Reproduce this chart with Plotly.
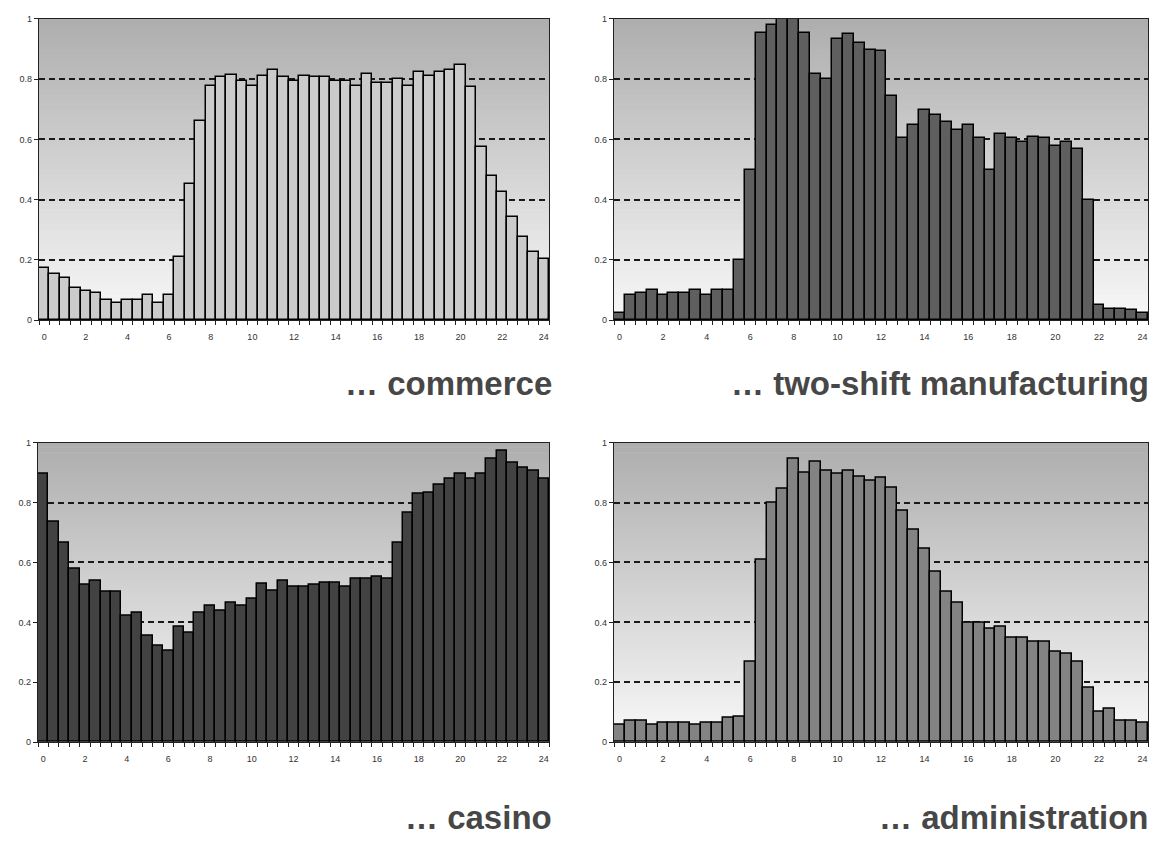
import plotly.graph_objects as go

hours = [0, 0.5, 1, 1.5, 2, 2.5, 3, 3.5, 4, 4.5, 5, 5.5, 6, 6.5, 7, 7.5, 8, 8.5, 9, 9.5,
         10, 10.5, 11, 11.5, 12, 12.5, 13, 13.5, 14, 14.5, 15, 15.5, 16, 16.5, 17, 17.5,
         18, 18.5, 19, 19.5, 20, 20.5, 21, 21.5, 22, 22.5, 23, 23.5, 24]

commerce = [0.172, 0.155, 0.140, 0.107, 0.096, 0.090, 0.068, 0.057, 0.068, 0.068, 0.085, 0.057,
            0.085, 0.210, 0.453, 0.662, 0.778, 0.806, 0.815, 0.793, 0.778, 0.812, 0.832, 0.806,
            0.795, 0.811, 0.806, 0.806, 0.795, 0.795, 0.778, 0.817, 0.787, 0.789, 0.800, 0.778,
            0.824, 0.811, 0.825, 0.832, 0.849, 0.773, 0.574, 0.480, 0.426, 0.342, 0.276, 0.227,
            0.205]

two_shift = [0.023, 0.085, 0.091, 0.102, 0.085, 0.091, 0.091, 0.102, 0.085, 0.102, 0.102, 0.200,
             0.498, 0.953, 0.980, 1.000, 1.000, 0.953, 0.817, 0.800, 0.933, 0.951, 0.920, 0.898,
             0.893, 0.746, 0.604, 0.647, 0.697, 0.680, 0.658, 0.631, 0.647, 0.604, 0.498, 0.618,
             0.604, 0.591, 0.609, 0.604, 0.580, 0.591, 0.570, 0.400, 0.052, 0.039, 0.039, 0.033,
             0.023]

casino = [0.895, 0.735, 0.667, 0.579, 0.526, 0.540, 0.502, 0.502, 0.423, 0.432, 0.355, 0.322,
          0.305, 0.385, 0.366, 0.432, 0.456, 0.438, 0.467, 0.456, 0.478, 0.528, 0.507, 0.540,
          0.518, 0.518, 0.526, 0.531, 0.531, 0.518, 0.545, 0.547, 0.551, 0.545, 0.667, 0.766,
          0.829, 0.832, 0.859, 0.879, 0.895, 0.879, 0.895, 0.945, 0.972, 0.934, 0.917, 0.906,
          0.879]

administration = [0.057, 0.072, 0.072, 0.057, 0.066, 0.063, 0.066, 0.057, 0.066, 0.063, 0.083, 0.085,
                  0.269, 0.609, 0.799, 0.845, 0.945, 0.901, 0.936, 0.906, 0.895, 0.906, 0.888, 0.873,
                  0.884, 0.851, 0.774, 0.710, 0.645, 0.568, 0.501, 0.467, 0.399, 0.399, 0.379, 0.385,
                  0.350, 0.350, 0.335, 0.335, 0.302, 0.294, 0.269, 0.181, 0.101, 0.112, 0.072, 0.072,
                  0.063]

x_tick_vals = [0, 2, 4, 6, 8, 10, 12, 14, 16, 18, 20, 22, 24]
x_tick_text = ["0", "2", "4", "6", "8", "10", "12", "14", "16", "18", "20", "22", "24"]
y_tick_vals = [0, 0.2, 0.4, 0.6, 0.8, 1]
y_tick_text = ["0", "0.2", "0.4", "0.6", "0.8", "1"]
boundaries = [h - 0.25 for h in hours] + [24.25]

panels = [
    ("… commerce", commerce, "#cbcbcb"),
    ("… two-shift manufacturing", two_shift, "#5f5f5f"),
    ("… casino", casino, "#424242"),
    ("… administration", administration, "#838383"),
]

OFF = 8  # default page body margin
W, H = 1158 - 2 * OFF, 845 - 2 * OFF
# pixel boxes in page coords (left, right, top, bottom)
boxes = [(39, 549, 14, 319), (614, 1148, 14, 319), (38, 549, 443, 746), (614, 1148, 443, 746)]
titles_pos = [(554, 383), (1151, 383), (554, 822), (1151, 822)]
title_size = 33

fig = go.Figure()
layout = dict(width=W, height=H, margin=dict(l=0, r=0, t=0, b=0),
              paper_bgcolor="white", plot_bgcolor="rgba(0,0,0,0)",
              showlegend=False, bargap=0)
shapes = []
annotations = []

n_bands = 60
for k, ((name, vals, color), (l, r, t, b)) in enumerate(zip(panels, boxes)):
    l, r, t, b = l - OFF, r - OFF, t - OFF, b - OFF
    idx = "" if k == 0 else str(k + 1)
    xa, ya = "x" + idx, "y" + idx
    fig.add_trace(go.Bar(x=hours, y=vals, width=0.5, xaxis=xa, yaxis=ya,
                         marker=dict(color=color, line=dict(color="black", width=1.5)),
                         name=name.replace("… ", "")))
    layout["xaxis" + idx] = dict(
        domain=[l / W, r / W], anchor=ya, range=[-0.25, 24.25],
        tickvals=x_tick_vals, ticktext=x_tick_text, ticks="",
        ticklabelstandoff=8,
        tickfont=dict(family="Liberation Sans", size=9, color="#333333"),
        showgrid=False, zeroline=False, showline=True, linecolor="#222222",
        linewidth=1.3, mirror=True,
        minor=dict(tickvals=boundaries, ticks="outside", ticklen=4,
                   tickcolor="#222222", tickwidth=1, showgrid=False),
        fixedrange=True)
    layout["yaxis" + idx] = dict(
        domain=[1 - b / H, 1 - t / H], anchor=xa, range=[0, 1],
        tickvals=y_tick_vals, ticktext=y_tick_text, ticks="outside", ticklen=4,
        tickcolor="#222222",
        tickfont=dict(family="Liberation Sans", size=9, color="#333333"),
        showgrid=True, gridcolor="#1a1a1a", gridwidth=1.5, griddash="6px,4px",
        zeroline=False, showline=True, linecolor="#222222", linewidth=1.3,
        mirror=True, fixedrange=True)
    # gradient background bands
    for j in range(n_bands):
        f = j / (n_bands - 1)
        g = int(round(248 - (248 - 174) * f))
        shapes.append(dict(type="rect", xref=xa + " domain", yref=ya + " domain",
                           x0=0, x1=1, y0=j / n_bands, y1=(j + 1) / n_bands + 0.002,
                           fillcolor=f"rgb({g},{g},{g})", line=dict(width=0),
                           layer="below"))
    tx, ty = titles_pos[k]
    annotations.append(dict(text=name, xref="paper", yref="paper",
                            x=(tx - OFF) / W, y=1 - (ty - OFF) / H,
                            xanchor="right", yanchor="middle", showarrow=False,
                            font=dict(family="Liberation Sans", size=title_size,
                                      color="#474747", weight="bold")))

layout["shapes"] = shapes
layout["annotations"] = annotations
fig.update_layout(**layout)
fig.write_html("out.html")
